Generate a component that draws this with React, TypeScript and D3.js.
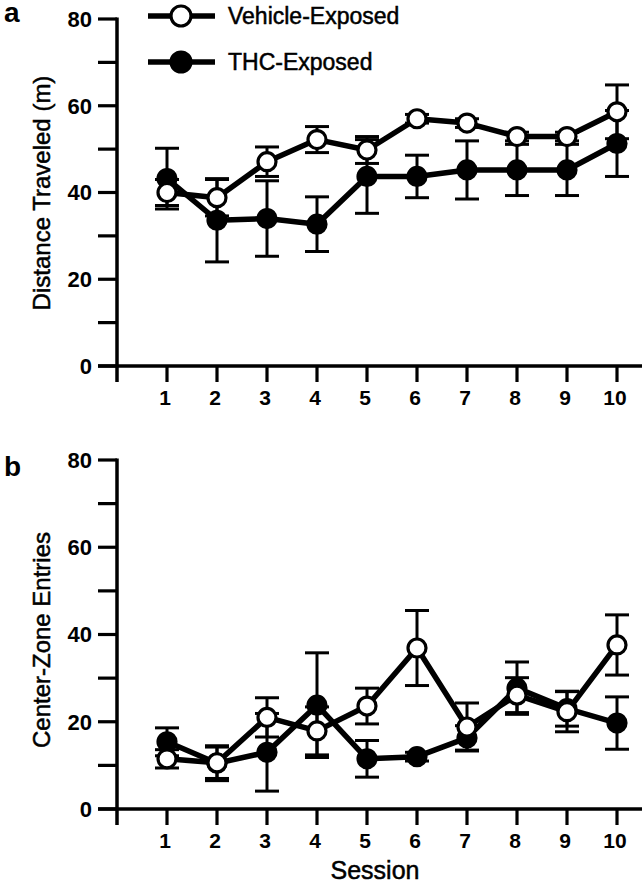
import React from "react";
import * as d3 from "d3";

const sessions = [1, 2, 3, 4, 5, 6, 7, 8, 9, 10];
const yTicks = [0, 10, 20, 30, 40, 50, 60, 70, 80];
const yLabels = [0, 20, 40, 60, 80];

const distVehicle = [40, 38.8, 47.1, 52.2, 49.8, 57, 56, 52.9, 52.9, 58.6];
const distVehicleErr = [3, 4.2, 3.4, 3, 3.1, 1, 1, 1, 1, 6.2];
const distTHC = [43.2, 33.6, 34, 32.7, 43.7, 43.7, 45.2, 45.2, 45.2, 51.3];
const distTHCErr = [7, 9.6, 8.7, 6.3, 8.5, 4.9, 6.7, 5.9, 5.9, 7.6];

const czVehicle = [11.5, 10.6, 21, 17.9, 23.6, 36.9, 18.8, 26.1, 22.3, 37.6];
const czVehicleErr = [2.1, 3.6, 4.5, 5.5, 4.1, 8.6, 5.5, 4, 4.6, 6.9];
const czTHC = [15.4, 10.5, 13, 23.8, 11.5, 12, 16.3, 27.7, 23, 19.7];
const czTHCErr = [3.2, 4, 8.9, 12, 4.2, 1, 2.8, 6, 4, 6];

const FONT = "'Liberation Sans', Arial, Helvetica, sans-serif";

const x = d3.scaleLinear().domain([0, 10.5]).range([117, 642]);

type SeriesProps = {
  y: d3.ScaleLinear<number, number>;
  values: number[];
  errs: number[];
  filled: boolean;
};

function Series({ y, values, errs, filled }: SeriesProps) {
  const line = d3
    .line<number>()
    .x((_, i) => x(sessions[i]))
    .y((d) => y(d));
  return (
    <g>
      {values.map((v, i) => {
        const cx = x(sessions[i]);
        const hi = y(v + errs[i]);
        const lo = y(v - errs[i]);
        return (
          <g key={i} stroke="#000" strokeWidth={3}>
            <line x1={cx} x2={cx} y1={hi} y2={lo} />
            <line x1={cx - 12} x2={cx + 12} y1={hi} y2={hi} />
            <line x1={cx - 12} x2={cx + 12} y1={lo} y2={lo} />
          </g>
        );
      })}
      <path d={line(values) || ""} fill="none" stroke="#000" strokeWidth={5.5} strokeLinejoin="round" />
      {values.map((v, i) => (
        <circle
          key={i}
          cx={x(sessions[i])}
          cy={y(v)}
          r={9}
          fill={filled ? "#000" : "#fff"}
          stroke="#000"
          strokeWidth={3.2}
        />
      ))}
    </g>
  );
}

type PanelProps = {
  y: d3.ScaleLinear<number, number>;
  title: string;
  letter: string;
  letterY: number;
  titleY: number;
  vehicle: number[];
  vehicleErr: number[];
  thc: number[];
  thcErr: number[];
};

function Panel({ y, title, letter, letterY, titleY, vehicle, vehicleErr, thc, thcErr }: PanelProps) {
  const y0 = y(0);
  return (
    <g>
      <text x={4} y={letterY} fontFamily={FONT} fontWeight="bold" fontSize={28}>
        {letter}
      </text>
      <line x1={117} x2={117} y1={y(80) - 1.5} y2={y0 + 16} stroke="#000" strokeWidth={3.5} />
      {yTicks.map((t) => (
        <line key={t} x1={98} x2={117} y1={y(t)} y2={y(t)} stroke="#000" strokeWidth={3.2} />
      ))}
      {yLabels.map((t) => (
        <text
          key={t}
          x={92}
          y={y(t)}
          dy="0.36em"
          textAnchor="end"
          fontFamily={FONT}
          fontWeight="bold"
          fontSize={22}
        >
          {t}
        </text>
      ))}
      <line x1={98} x2={642} y1={y0} y2={y0} stroke="#000" strokeWidth={3.5} />
      {sessions.map((s) => (
        <g key={s}>
          <line x1={x(s)} x2={x(s)} y1={y0} y2={y0 + 16} stroke="#000" strokeWidth={3.2} />
          <text
            x={x(s) - 2}
            y={y0 + 39}
            textAnchor="middle"
            fontFamily={FONT}
            fontWeight="bold"
            fontSize={21}
          >
            {s}
          </text>
        </g>
      ))}
      <text
        transform={`translate(50,${titleY}) rotate(-90)`}
        textAnchor="middle"
        fontFamily={FONT}
        fontSize={24}
        stroke="#000"
        strokeWidth={0.5}
      >
        {title}
      </text>
      <Series y={y} values={thc} errs={thcErr} filled={true} />
      <Series y={y} values={vehicle} errs={vehicleErr} filled={false} />
    </g>
  );
}

export default function App() {
  const yA = d3.scaleLinear().domain([0, 80]).range([366, 19]);
  const yB = d3.scaleLinear().domain([0, 80]).range([809, 460]);
  const legend = [
    { label: "Vehicle-Exposed", filled: false, y: 16 },
    { label: "THC-Exposed", filled: true, y: 62 },
  ];
  return (
    <svg
      width={643}
      height={883}
      viewBox="0 0 643 883"
      style={{ position: "absolute", left: 0, top: 0, background: "#fff" }}
    >
      <rect width={643} height={883} fill="#fff" />
      <Panel
        y={yA}
        title="Distance Traveled (m)"
        letter="a"
        letterY={22}
        titleY={193}
        vehicle={distVehicle}
        vehicleErr={distVehicleErr}
        thc={distTHC}
        thcErr={distTHCErr}
      />
      <Panel
        y={yB}
        title="Center-Zone Entries"
        letter="b"
        letterY={476}
        titleY={640}
        vehicle={czVehicle}
        vehicleErr={czVehicleErr}
        thc={czTHC}
        thcErr={czTHCErr}
      />
      {legend.map((l) => (
        <g key={l.label}>
          <line x1={148} x2={215} y1={l.y} y2={l.y} stroke="#000" strokeWidth={5.5} />
          <circle cx={181} cy={l.y} r={10} fill={l.filled ? "#000" : "#fff"} stroke="#000" strokeWidth={3.2} />
          <text x={228} y={l.y + 8} fontFamily={FONT} fontSize={23} stroke="#000" strokeWidth={0.5}>
            {l.label}
          </text>
        </g>
      ))}
      <text
        x={375}
        y={879}
        textAnchor="middle"
        fontFamily={FONT}
        fontSize={25}
        stroke="#000"
        strokeWidth={0.5}
      >
        Session
      </text>
    </svg>
  );
}
